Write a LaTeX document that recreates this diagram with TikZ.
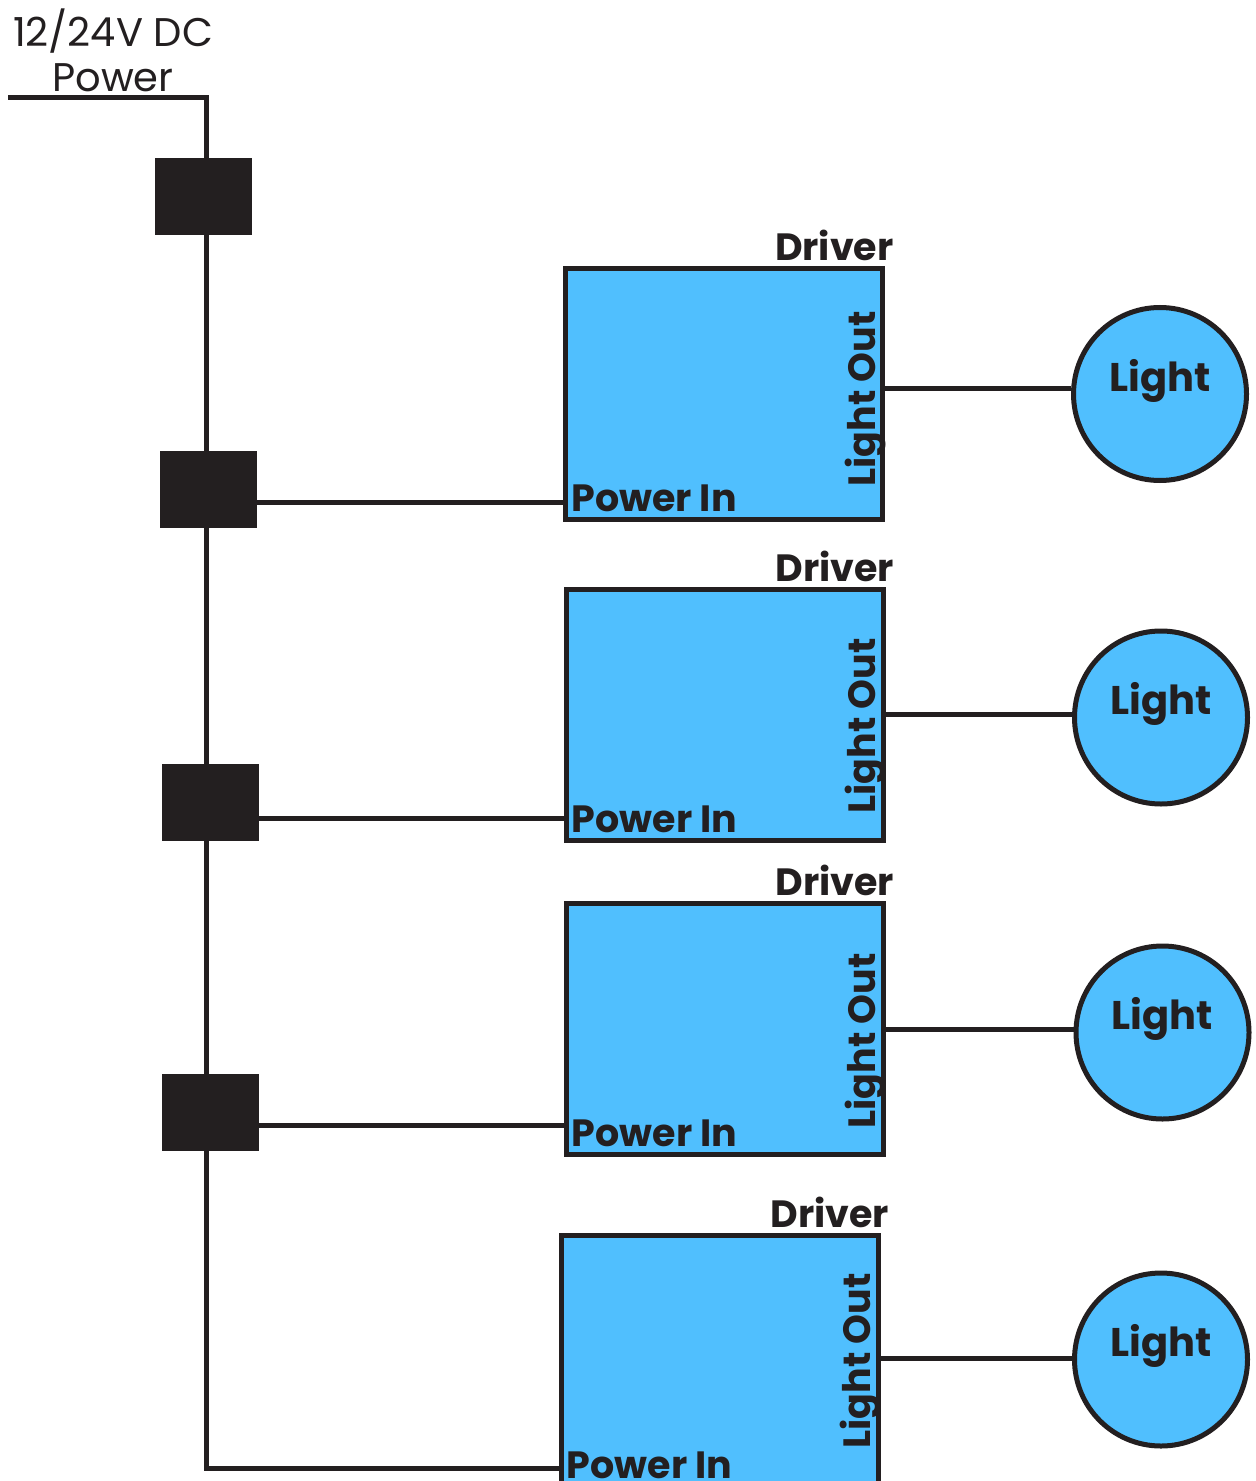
\documentclass[tikz,border=0pt]{standalone}
\usepackage{fontspec}
\setmainfont{Poppins}
\usetikzlibrary{calc}
\definecolor{ink}{HTML}{231F20}
\definecolor{ledblue}{HTML}{50BFFE}

\begin{document}
\begin{tikzpicture}[
		x=0.5pt, y=-0.5pt,
		wire/.style = {draw=ink, line width=2.5pt},
		plug/.style = {fill=ink, inner sep=0pt, minimum width=48.5pt, minimum height=38.5pt},
		driver/.style = {draw=ink, fill=ledblue, line width=2.5pt, inner sep=0pt, minimum width=158.5pt, minimum height=125.5pt},
		lamp/.style = {circle, draw=ink, fill=ledblue, line width=2.5pt, inner sep=0pt, minimum size=86.5pt},
		tag/.style = {text=ink, inner sep=0pt, font=\bfseries\fontsize{19}{19}\selectfont},
	]
	\useasboundingbox (0,0) rectangle (1256,1481);
	% supply and the plugs on it
	\node[text=ink, align=center, inner sep=0pt, font=\fontsize{20}{22.5}\selectfont] (feed) at (113,50) {12/24V DC\\Power};
	\coordinate (in) at (8,98);
	\coordinate (bend) at (206,98);
	\coordinate (foot) at (206,1468);
	\node[plug] (p0) at (203.5,196.5) {};
	\node[plug] (p1) at (208.5,489) {};
	\node[plug] (p2) at (210.5,802) {};
	\node[plug] (p3) at (210.5,1112) {};
	% drivers and lights
	\foreach \n/\bx/\by/\ty/\oy/\lx/\ly in {1/724/394/399/388/1160/394, 2/724.5/714.5/726/714/1161/717.5, 3/724.5/1028.5/1041/1029/1162.5/1032.5, 4/719.5/1361/1361/1358/1161/1359.5} {
		\node[driver] (d\n) at (\bx,\by) {};
		\node[tag, anchor=base east] at ($(d\n.north east)+(9,-5.5)$) {Driver};
		\node[tag, anchor=base west] at ($(d\n.south west)+(8,-10.5)$) {Power In};
		\node[tag, anchor=base, rotate=90] at ($(d\n.east |- 0,\ty)+(-10,0)$) {Light Out};
		\node[lamp] (l\n) at (\lx,\ly) {};
		\node[tag, anchor=base, font=\bfseries\fontsize{20}{20}\selectfont] at ($(l\n.center)+(0,-3)$) {Light};
		\draw[wire] (d\n.east |- 0,\oy) -- (l\n.west |- 0,\oy);
	}
	% feed wires
	\draw[wire] (in) -- (bend) -- (foot) -- (d4.west |- foot);
	\draw[wire] (p1.east |- 0,502) -- (d1.west |- 0,502);
	\draw[wire] (p2.east |- 0,818) -- (d2.west |- 0,818);
	\draw[wire] (p3.east |- 0,1125) -- (d3.west |- 0,1125);
\end{tikzpicture}
\end{document}
